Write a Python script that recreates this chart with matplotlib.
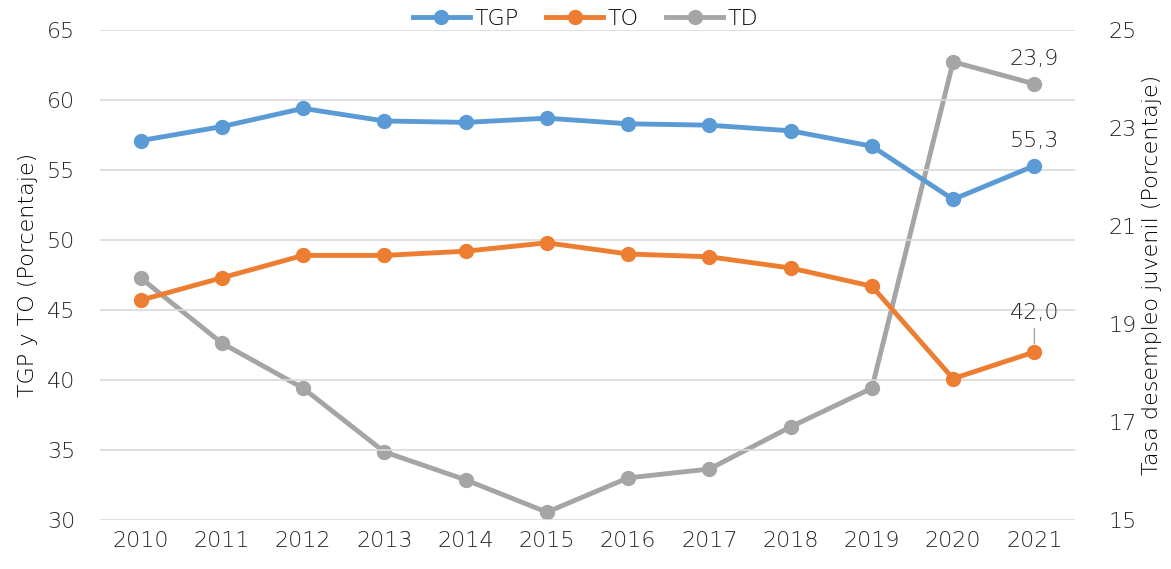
import numpy as np
import matplotlib.pyplot as plt

plt.rcParams['font.family'] = ['DejaVu Sans']
plt.rcParams['font.weight'] = 200

anios = ['2010', '2011', '2012', '2013', '2014', '2015', '2016', '2017', '2018', '2019', '2020', '2021']
tgp = [57.1, 58.1, 59.4, 58.5, 58.4, 58.7, 58.3, 58.2, 57.8, 56.7, 52.9, 55.3]
to = [45.7, 47.3, 48.9, 48.9, 49.2, 49.8, 49.0, 48.8, 48.0, 46.7, 40.1, 42.0]
td = [19.94, 18.61, 17.69, 16.39, 15.82, 15.16, 15.86, 16.04, 16.9, 17.69, 24.35, 23.9]

c_tgp = '#5b9bd5'
c_to = '#ed7d31'
c_td = '#a5a5a5'
c_txt = '#262626'

fig = plt.figure(figsize=(11.71, 5.69), dpi=100)
ax = fig.add_axes([0.0854, 0.0861, 0.8326, 0.8612])
ax2 = ax.twinx()

x = np.arange(len(anios))

ax.set_zorder(ax2.get_zorder() + 1)
ax.patch.set_visible(False)

l1, = ax.plot(x, tgp, color=c_tgp, lw=3.5, marker='o', ms=10, label='TGP', zorder=3)
l2, = ax.plot(x, to, color=c_to, lw=3.5, marker='o', ms=10, label='TO', zorder=3)
l3, = ax2.plot(x, td, color=c_td, lw=3.5, marker='o', ms=10, label='TD', zorder=3)

ax.set_ylim(30, 65)
ax.set_yticks(np.arange(30, 66, 5))
ax2.set_ylim(15, 25)
ax2.set_yticks(np.arange(15, 26, 2))
ax.set_xlim(-0.5, len(anios) - 0.5)
ax.set_xticks(x)
ax.set_xticklabels(anios)

ax.grid(axis='y', color='#d9d9d9', lw=1.2)
ax.set_axisbelow(True)
for a in (ax, ax2):
    for s in a.spines.values():
        s.set_visible(False)
    a.tick_params(length=0, labelsize=16, colors=c_txt, pad=8)
ax.tick_params(axis='y', pad=18)
ax2.tick_params(axis='y', pad=24)

ax.set_ylabel('TGP y TO (Porcentaje)', fontsize=16, color='black', fontweight=200, labelpad=6)
ax2.set_ylabel('Tasa desempleo juvenil (Porcentaje)', fontsize=16, color='black',
               fontweight=200, labelpad=4)

# etiquetas del ultimo año
ax.annotate('55,3', (x[-1], tgp[-1]), xytext=(0, 11), textcoords='offset points',
            ha='center', va='bottom', fontsize=16, color=c_txt)
ax2.annotate('23,9', (x[-1], td[-1]), xytext=(0, 11), textcoords='offset points',
             ha='center', va='bottom', fontsize=16, color=c_txt)
ax.annotate('42,0', (x[-1], to[-1]), xytext=(0, 21), textcoords='offset points',
            ha='center', va='bottom', fontsize=16, color=c_txt,
            arrowprops=dict(arrowstyle='-', color='#a5a5a5', lw=1, shrinkA=2, shrinkB=6))

leg = fig.legend(handles=[l1, l2, l3], loc='upper center', bbox_to_anchor=(0.5, 1.02), ncol=3,
                 frameon=False, fontsize=16, handlelength=2.6, columnspacing=1.2, handletextpad=0.2)
for t in leg.get_texts():
    t.set_color('black')

fig.savefig('out.png', dpi=100)
